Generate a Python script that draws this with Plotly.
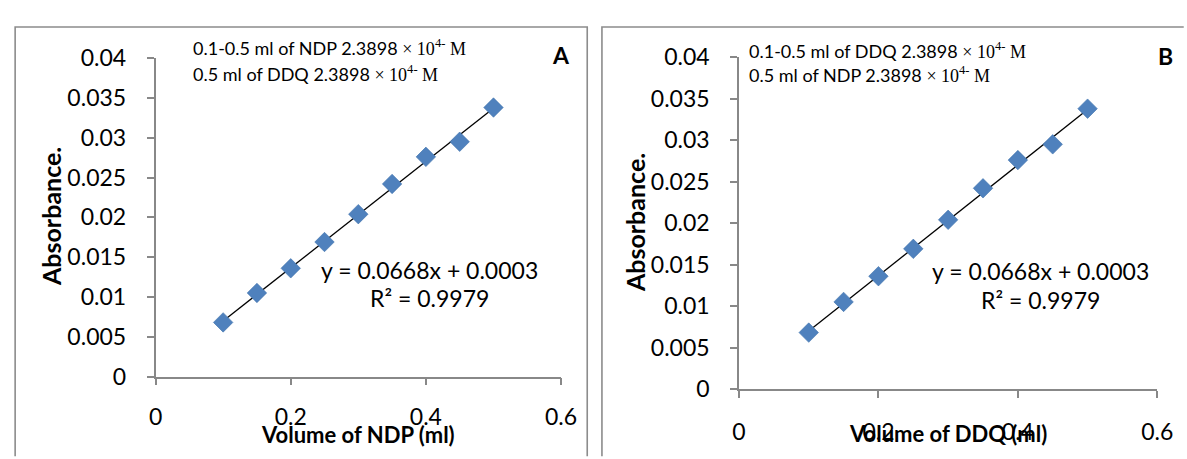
import plotly.graph_objects as go

W, H = 1187, 459

volume_ml = [0.1, 0.15, 0.2, 0.25, 0.3, 0.35, 0.4, 0.45, 0.5]
absorbance_A = [0.0068, 0.0105, 0.0136, 0.0169, 0.0204, 0.0242, 0.0276, 0.0295, 0.0338]
absorbance_B = [0.0068, 0.0105, 0.0136, 0.0169, 0.0204, 0.0242, 0.0276, 0.0295, 0.0338]
slope_A, intercept_A = 0.0668, 0.0003
slope_B, intercept_B = 0.0668, 0.0003
x_ticks = [0, 0.2, 0.4, 0.6]
y_ticks = [0, 0.005, 0.01, 0.015, 0.02, 0.025, 0.03, 0.035, 0.04]
y_tick_text = ["0", "0.005", "0.01", "0.015", "0.02", "0.025", "0.03", "0.035", "0.04"]
x_tick_text = ["0", "0.2", "0.4", "0.6"]

FONT = "Lato"
MARK = "#4F81BD"
AXC = "#888888"


def px(x):
    return x / W


def py(y):
    return 1 - y / H


fig = go.Figure()

panels = [
    ("x", "y", absorbance_A, slope_A, intercept_A),
    ("x2", "y2", absorbance_B, slope_B, intercept_B),
]
for xa, ya, yv, m, b in panels:
    xs = [min(volume_ml), max(volume_ml)]
    fig.add_trace(go.Scatter(x=xs, y=[m * v + b for v in xs], mode="lines",
                             line=dict(color="black", width=1.3), xaxis=xa, yaxis=ya,
                             showlegend=False, hoverinfo="skip"))
    fig.add_trace(go.Scatter(x=volume_ml, y=yv, mode="markers",
                             marker=dict(symbol="diamond", size=15, color=MARK,
                                         line=dict(color="#4273ad", width=0.6)),
                             xaxis=xa, yaxis=ya, showlegend=False))

axis_common = dict(showgrid=False, zeroline=False, showline=True, linecolor=AXC, linewidth=1.6,
                   ticks="outside", tickcolor=AXC, ticklen=7, tickwidth=1.6,
                   tickfont=dict(family=FONT, size=23, color="#000"))

fig.update_layout(
    xaxis=dict(domain=[px(151.5), px(565)], range=[0, 0.6], tickvals=x_ticks, ticktext=x_tick_text,
               anchor="y", ticklabelstandoff=12, **axis_common),
    yaxis=dict(domain=[py(385), py(46)], range=[0, 0.04], tickvals=y_ticks, ticktext=y_tick_text,
               anchor="x", ticklabelstandoff=16, **axis_common),
    xaxis2=dict(domain=[px(746.5), px(1173)], range=[0, 0.6], tickvals=x_ticks, ticktext=x_tick_text,
                anchor="y2", ticklabelstandoff=15, **axis_common),
    yaxis2=dict(domain=[py(398.3), py(45)], range=[0, 0.04], tickvals=y_ticks, ticktext=y_tick_text,
                anchor="x2", ticklabelstandoff=16, **axis_common),
)

BORDER = "#8c8c8c"
shapes = [
    dict(type="path", xref="paper", yref="paper",
         path=f"M {px(8.3)},{py(470)} L {px(8.3)},{py(12.7)} L {px(591.7)},{py(12.7)} L {px(591.7)},{py(470)}",
         line=dict(color=BORDER, width=1.6)),
    dict(type="path", xref="paper", yref="paper",
         path=f"M {px(606.7)},{py(470)} L {px(606.7)},{py(12.7)} L {px(1200)},{py(12.7)}",
         line=dict(color=BORDER, width=1.6)),
]

SER = "<span style='font-family:\"Liberation Serif\", \"Times New Roman\", serif'>"


def cond(a, b):
    return (f"{a} 2.3898 {SER}× 10<sup>4-</sup> M</span>", f"{b} 2.3898 {SER}× 10<sup>4-</sup> M</span>")


annA1, annA2 = cond("0.1-0.5 ml of NDP", "0.5 ml of DDQ")
annB1, annB2 = cond("0.1-0.5 ml of DDQ", "0.5 ml of NDP")

ann = []


def txt(x, y, t, size, bold=False, xanchor="left", angle=0):
    if bold:
        t = f"<b>{t}</b>"
    ann.append(dict(x=px(x), y=py(y), xref="paper", yref="paper", text=t, showarrow=False,
                    xanchor=xanchor, yanchor="middle", textangle=angle,
                    font=dict(family=FONT, size=size, color="#000")))


txt(188, 35, annA1, 18)
txt(188, 62.5, annA2, 18)
txt(565, 43, "A", 23, bold=True, xanchor="center")
txt(431, 272, "y = 0.0668x + 0.0003", 23, xanchor="center")
txt(431, 301, "R² = 0.9979", 23, xanchor="center")
txt(45, 215, "Absorbance.", 25, bold=True, xanchor="center", angle=-90)
txt(358, 447, "Volume of NDP (ml)", 22, bold=True, xanchor="center")

txt(755, 38, annB1, 18)
txt(755, 63, annB2, 18)
txt(1181, 44, "B", 23, bold=True, xanchor="center")
txt(1054, 273, "y = 0.0668x + 0.0003", 23, xanchor="center")
txt(1054, 303, "R² = 0.9979", 23, xanchor="center")
txt(640, 221, "Absorbance.", 25, bold=True, xanchor="center", angle=-90)
txt(960, 446, "Volume of DDQ (ml)", 22, bold=True, xanchor="center")

fig.update_layout(width=W, height=H, margin=dict(l=0, r=0, t=0, b=0),
                  paper_bgcolor="white", plot_bgcolor="white",
                  shapes=shapes, annotations=ann, showlegend=False)

fig.write_html("out.html", config={"displayModeBar": False},
               post_script="document.body.style.margin='0';document.body.style.overflow='hidden';"
                           "document.documentElement.style.overflow='hidden';")
